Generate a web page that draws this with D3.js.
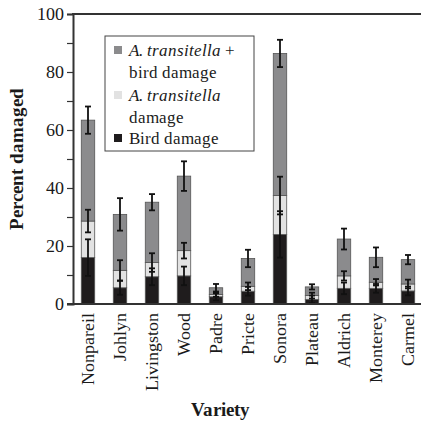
<!DOCTYPE html>
<html>
<head>
<meta charset="utf-8">
<script src="https://cdn.jsdelivr.net/npm/d3@7"></script>
<style>
  @font-face { font-family: "PlotSerif"; font-style: normal; font-weight: 400;
    src: local("Liberation Serif"), local("LiberationSerif"), local("DejaVu Serif"), local("DejaVuSerif"); }
  @font-face { font-family: "PlotSerif"; font-style: italic; font-weight: 400;
    src: local("Liberation Serif Italic"), local("LiberationSerif-Italic"), local("DejaVu Serif Italic"), local("DejaVuSerif-Italic"); }
  @font-face { font-family: "PlotSerif"; font-style: normal; font-weight: 700;
    src: local("Liberation Serif Bold"), local("LiberationSerif-Bold"), local("DejaVu Serif Bold"), local("DejaVuSerif-Bold"); }
  body { margin: 0; background: #fff; }
  svg { display: block; }
  svg text { font-family: "PlotSerif", "Liberation Serif", "DejaVu Serif", serif; fill: #1a1a1a; }
</style>
</head>
<body>
<div id="chart"></div>
<script>
// varieties and damage (percent), one value per stacked segment
const varieties = ["Nonpareil", "Johlyn", "Livingston", "Wood", "Padre", "Pricte",
  "Sonora", "Plateau", "Aldrich", "Monterey", "Carmel"];
const birdDamage  = [16.0, 5.6, 9.4, 9.7, 2.5, 4.4, 24.0, 1.6, 5.4, 5.4, 4.5];
const birdErr     = [6.3, 2.4, 2.9, 3.2, 1.2, 1.5, 8.0, 1.3, 2.0, 1.5, 1.5];
const atDamage    = [12.6, 6.0, 4.9, 8.7, 0.8, 1.7, 13.4, 1.3, 4.3, 2.1, 2.4];
const atErr       = [3.9, 3.5, 3.2, 2.7, 0.8, 1.3, 6.5, 1.0, 1.6, 1.1, 1.5];
const bothDamage  = [34.8, 19.3, 20.8, 25.7, 2.3, 9.6, 49.0, 3.0, 12.7, 8.6, 8.4];
const bothErr     = [4.7, 5.6, 2.8, 5.1, 1.3, 3.0, 4.7, 0.9, 3.6, 3.4, 1.6];
const yTicks = [0, 20, 40, 60, 80, 100];

const W = 421, H = 421;
const x0 = 72, x1 = 424, yTop = 14, yBot = 304;
const serif = '"PlotSerif", "Liberation Serif", "DejaVu Serif", serif';

const keys = ["bird", "at", "both"];
const fills = { bird: "#1f1c1d", at: "#e2e2e2", both: "#8b8b8d" };
const errs = { bird: birdErr, at: atErr, both: bothErr };

const rows = varieties.map((v, i) => ({
  variety: v, bird: birdDamage[i], at: atDamage[i], both: bothDamage[i]
}));
const series = d3.stack().keys(keys)(rows);

const x = d3.scaleBand().domain(varieties).range([x0, x1])
  .paddingInner(0.58).paddingOuter(0.29);
const y = d3.scaleLinear().domain([0, 100]).range([yBot, yTop]);

const svg = d3.select("#chart").append("svg")
  .attr("width", W).attr("height", H)
  .attr("font-family", serif);

// bars
svg.append("g").selectAll("g")
  .data(series).join("g")
  .attr("fill", d => fills[d.key])
  .selectAll("rect")
  .data(d => d).join("rect")
  .attr("x", d => x(d.data.variety))
  .attr("width", x.bandwidth())
  .attr("y", d => y(d[1]))
  .attr("height", d => y(d[0]) - y(d[1]))
  .attr("stroke", "#555")
  .attr("stroke-width", 0.8);

// error bars at the top of each segment
const cap = 3;
series.forEach(s => {
  const g = svg.append("g").attr("stroke", "#111").attr("stroke-width", 1.8);
  s.forEach((d, i) => {
    const cx = x(d.data.variety) + x.bandwidth() / 2;
    const e = errs[s.key][i];
    const hi = y(d[1] + e), lo = y(Math.max(0, d[1] - e));
    g.append("line").attr("x1", cx).attr("x2", cx).attr("y1", hi).attr("y2", lo);
    g.append("line").attr("x1", cx - cap).attr("x2", cx + cap).attr("y1", hi).attr("y2", hi);
    g.append("line").attr("x1", cx - cap).attr("x2", cx + cap).attr("y1", lo).attr("y2", lo);
  });
});

// y axis
const yAxis = svg.append("g")
  .attr("transform", `translate(${x0 + 1},0)`)
  .call(d3.axisLeft(y).tickValues(d3.range(0, 101, 10)).tickSize(6)
    .tickFormat(d => yTicks.includes(d) ? d : ""));
yAxis.attr("font-family", serif);
yAxis.select(".domain").attr("stroke", "#333").attr("stroke-width", 2);
yAxis.selectAll(".tick line").attr("stroke", "#333").attr("stroke-width", 1.2);
yAxis.selectAll(".tick text").attr("font-size", 18).attr("x", -9).attr("fill", "#1a1a1a");

// top and bottom frame lines
svg.append("line").attr("x1", x0).attr("x2", W).attr("y1", yTop).attr("y2", yTop)
  .attr("stroke", "#333").attr("stroke-width", 2);
svg.append("line").attr("x1", x0 - 5).attr("x2", W).attr("y1", yBot).attr("y2", yBot)
  .attr("stroke", "#333").attr("stroke-width", 2);

// x labels, rotated
svg.append("g").selectAll("text")
  .data(varieties).join("text")
  .attr("transform", d => `translate(${x(d) + x.bandwidth() / 2 + 6},${yBot + 9}) rotate(-90)`)
  .attr("text-anchor", "end")
  .attr("font-size", 18)
  .text(d => d);

// axis titles
svg.append("text")
  .attr("transform", `translate(23,${(yTop + yBot) / 2}) rotate(-90)`)
  .attr("text-anchor", "middle")
  .attr("font-size", 19).attr("font-weight", "bold")
  .text("Percent damaged");
svg.append("text")
  .attr("x", 220).attr("y", 416)
  .attr("text-anchor", "middle")
  .attr("font-size", 19).attr("font-weight", "bold")
  .text("Variety");

// legend
const leg = svg.append("g");
leg.append("rect").attr("x", 105).attr("y", 36).attr("width", 149).attr("height", 115)
  .attr("fill", "#fff").attr("stroke", "#444").attr("stroke-width", 1);
const legItems = [
  { key: "both", lines: [["A. transitella", " +"], ["bird damage"]], y: 50 },
  { key: "at", lines: [["A. transitella"], ["damage"]], y: 95 },
  { key: "bird", lines: [["Bird damage"]], y: 138 }
];
legItems.forEach(it => {
  leg.append("rect").attr("x", 114).attr("y", it.y - 4).attr("width", 8).attr("height", 8)
    .attr("fill", fills[it.key]);
  it.lines.forEach((ln, j) => {
    const t = leg.append("text").attr("x", 129).attr("y", it.y + 6 + j * 22)
      .attr("font-size", 17);
    if (ln[0].startsWith("A.")) {
      t.append("tspan").attr("font-style", "italic").text(ln[0]);
      if (ln[1]) t.append("tspan").text(ln[1]);
    } else {
      t.text(ln[0]);
    }
  });
});
</script>
</body>
</html>
